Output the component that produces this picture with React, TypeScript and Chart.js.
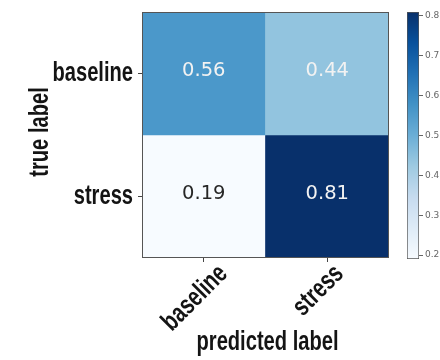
import { useEffect, useRef } from "react";
import { Chart, registerables } from "chart.js";

Chart.register(...registerables);

// Confusion matrix (rows: true label, columns: predicted label)
const predictedLabels = ["baseline", "stress"];
const trueLabels = ["baseline", "stress"];
const baselineRow = [0.56, 0.44];
const stressRow = [0.19, 0.81];
const colorbarTicks = [0.2, 0.3, 0.4, 0.5, 0.6, 0.7, 0.8];
const xTitle = "predicted label";
const yTitle = "true label";

const matrix = [baselineRow, stressRow];
const allValues = matrix.flat();
const vmin = Math.min(...allValues);
const vmax = Math.max(...allValues);

// matplotlib "Blues" colormap stops
const BLUES = [
  "#f7fbff", "#deebf7", "#c6dbef", "#9ecae1", "#6baed6",
  "#4292c6", "#2171b5", "#08519c", "#08306b",
];

function hexToRgb(h: string) {
  const n = parseInt(h.slice(1), 16);
  return [(n >> 16) & 255, (n >> 8) & 255, n & 255];
}

function blues(t: number) {
  const c = Math.max(0, Math.min(1, t)) * (BLUES.length - 1);
  const i = Math.min(Math.floor(c), BLUES.length - 2);
  const f = c - i;
  const a = hexToRgb(BLUES[i]);
  const b = hexToRgb(BLUES[i + 1]);
  const m = a.map((v, k) => Math.round(v + (b[k] - v) * f));
  return `rgb(${m[0]},${m[1]},${m[2]})`;
}

const norm = (v: number) => (v - vmin) / (vmax - vmin);

// Axis text uses a condensed bold face: a bold sans squeezed horizontally
const LABEL_FONT = "bold 27px 'Liberation Sans', Arial, sans-serif";
const CONDENSE = 0.745;
const LABEL_COLOR = "#141414";

function drawCondensed(
  ctx: CanvasRenderingContext2D,
  text: string,
  x: number,
  y: number,
  angle: number,
  align: CanvasTextAlign
) {
  ctx.save();
  ctx.translate(x, y);
  ctx.rotate(angle);
  ctx.scale(CONDENSE, 1);
  ctx.font = LABEL_FONT;
  ctx.fillStyle = LABEL_COLOR;
  ctx.textAlign = align;
  ctx.textBaseline = "alphabetic";
  ctx.fillText(text, 0, 0);
  ctx.restore();
}

// Tick labels and axis titles placed from the chart's own scales
const axisTextPlugin = {
  id: "axisText",
  afterDraw(chart: any) {
    const { ctx, chartArea: a, scales } = chart;
    const xs = scales.x;
    const ys = scales.y;

    trueLabels.forEach((label, i) => {
      const y = ys.getPixelForValue(i);
      drawCondensed(ctx, label, a.left - 9, y + 7, 0, "right");
    });

    ctx.save();
    ctx.font = LABEL_FONT;
    predictedLabels.forEach((label, i) => {
      const x = xs.getPixelForValue(i);
      const w = ctx.measureText(label).width * CONDENSE;
      const ax = x + (w * Math.SQRT1_2) / 2 - 3.5;
      drawCondensed(ctx, label, ax, a.bottom + 17, -Math.PI / 4, "right");
    });
    ctx.restore();

    drawCondensed(ctx, yTitle, a.left - 94, (a.top + a.bottom) / 2 - 3, -Math.PI / 2, "center");
    drawCondensed(ctx, xTitle, (a.left + a.right) / 2 + 2, a.bottom + 92, 0, "center");
  },
};

// Writes each cell's value at its centre, light text on the darker cells
const cellTextPlugin = {
  id: "cellText",
  afterDatasetsDraw(chart: any) {
    const { ctx } = chart;
    ctx.save();
    ctx.font = "19.5px 'DejaVu Sans', sans-serif";
    ctx.textAlign = "center";
    ctx.textBaseline = "middle";
    const thresh = vmax / 2;
    chart.data.datasets.forEach((_ds: any, r: number) => {
      const meta = chart.getDatasetMeta(r);
      meta.data.forEach((bar: any, c: number) => {
        const v = matrix[r][c];
        const { x, y } = bar.getCenterPoint();
        ctx.fillStyle = v > thresh ? "#f2f2f2" : "#262626";
        ctx.fillText(v.toFixed(2), x, y - 3);
      });
    });
    ctx.restore();
  },
};

// Thin frame around the plotting area
const framePlugin = {
  id: "frame",
  afterDatasetsDraw(chart: any) {
    const { ctx, chartArea: a } = chart;
    ctx.save();
    ctx.strokeStyle = "#555";
    ctx.lineWidth = 1;
    ctx.strokeRect(a.left + 0.5, a.top + 0.5, a.right - a.left - 1, a.bottom - a.top - 1);
    ctx.restore();
  },
};

function Heatmap() {
  const ref = useRef<HTMLCanvasElement>(null);
  useEffect(() => {
    const chart = new Chart(ref.current!, {
      type: "bar",
      data: {
        labels: predictedLabels,
        datasets: matrix.map((row, r) => ({
          label: trueLabels[r],
          data: row.map(() => [r - 0.5, r + 0.5]),
          backgroundColor: row.map((v) => blues(norm(v))),
          barPercentage: 1,
          categoryPercentage: 1,
          grouped: false,
          borderWidth: 0,
        })),
      } as any,
      options: {
        animation: false,
        responsive: false,
        maintainAspectRatio: false,
        layout: { padding: { top: 12, right: 11, left: 0, bottom: 0 } },
        plugins: { legend: { display: false }, tooltip: { enabled: false } },
        scales: {
          x: {
            type: "category",
            offset: true,
            grid: {
              display: true,
              drawOnChartArea: false,
              drawTicks: true,
              tickLength: 4,
              color: "#444",
              offset: false,
            },
            border: { display: false },
            ticks: { display: false },
            title: { display: false, text: xTitle },
            afterFit: (s: any) => {
              s.height = 102;
            },
          },
          y: {
            type: "linear",
            reverse: true,
            min: -0.5,
            max: 1.5,
            afterBuildTicks: (s: any) => {
              s.ticks = trueLabels.map((_, i) => ({ value: i }));
            },
            grid: {
              display: true,
              drawOnChartArea: false,
              drawTicks: true,
              tickLength: 4,
              color: "#444",
            },
            border: { display: false },
            ticks: { display: false },
            title: { display: false, text: yTitle },
            afterFit: (s: any) => {
              s.width = 142;
            },
          },
        },
      } as any,
      plugins: [cellTextPlugin, framePlugin, axisTextPlugin],
    });
    return () => chart.destroy();
  }, []);
  return (
    <canvas
      ref={ref}
      width={400}
      height={360}
      style={{ position: "absolute", left: 0, top: 0, width: 400, height: 360 }}
    />
  );
}

function Colorbar() {
  const ref = useRef<HTMLCanvasElement>(null);
  useEffect(() => {
    const chart = new Chart(ref.current!, {
      type: "bar",
      data: {
        labels: ["colorbar"],
        datasets: [
          {
            data: [[vmin, vmax]],
            barPercentage: 1,
            categoryPercentage: 1,
            borderWidth: 1,
            borderColor: "#555",
            borderSkipped: false,
            backgroundColor: (ctx: any) => {
              const { chart } = ctx;
              const ys = chart.scales.y;
              if (!chart.chartArea || !ys) return BLUES[4];
              const g = chart.ctx.createLinearGradient(
                0,
                ys.getPixelForValue(vmin),
                0,
                ys.getPixelForValue(vmax)
              );
              BLUES.forEach((c, i) => g.addColorStop(i / (BLUES.length - 1), c));
              return g;
            },
          },
        ],
      } as any,
      options: {
        animation: false,
        responsive: false,
        maintainAspectRatio: false,
        layout: { padding: { top: 12, left: 12, right: 0, bottom: 101 } },
        plugins: { legend: { display: false }, tooltip: { enabled: false } },
        scales: {
          x: { display: false },
          y: {
            type: "linear",
            position: "right",
            min: vmin,
            max: vmax,
            afterBuildTicks: (s: any) => {
              s.ticks = colorbarTicks.map((value) => ({ value }));
            },
            grid: {
              display: true,
              drawOnChartArea: false,
              drawTicks: true,
              tickLength: 4,
              color: "#666",
            },
            border: { display: false },
            ticks: {
              font: { family: "'DejaVu Sans', sans-serif", size: 9 },
              color: "#666",
              padding: 2,
              callback: (v: any) => Number(v).toFixed(1),
            },
            afterFit: (s: any) => {
              s.width = 21;
            },
          },
        },
      } as any,
    });
    return () => chart.destroy();
  }, []);
  return (
    <canvas
      ref={ref}
      width={45}
      height={360}
      style={{ position: "absolute", left: 395, top: 0, width: 45, height: 360 }}
    />
  );
}

export default function App() {
  return (
    <div
      style={{
        position: "fixed",
        left: 0,
        top: 0,
        width: 440,
        height: 360,
        background: "#fff",
        overflow: "hidden",
      }}
    >
      <Heatmap />
      <Colorbar />
    </div>
  );
}
